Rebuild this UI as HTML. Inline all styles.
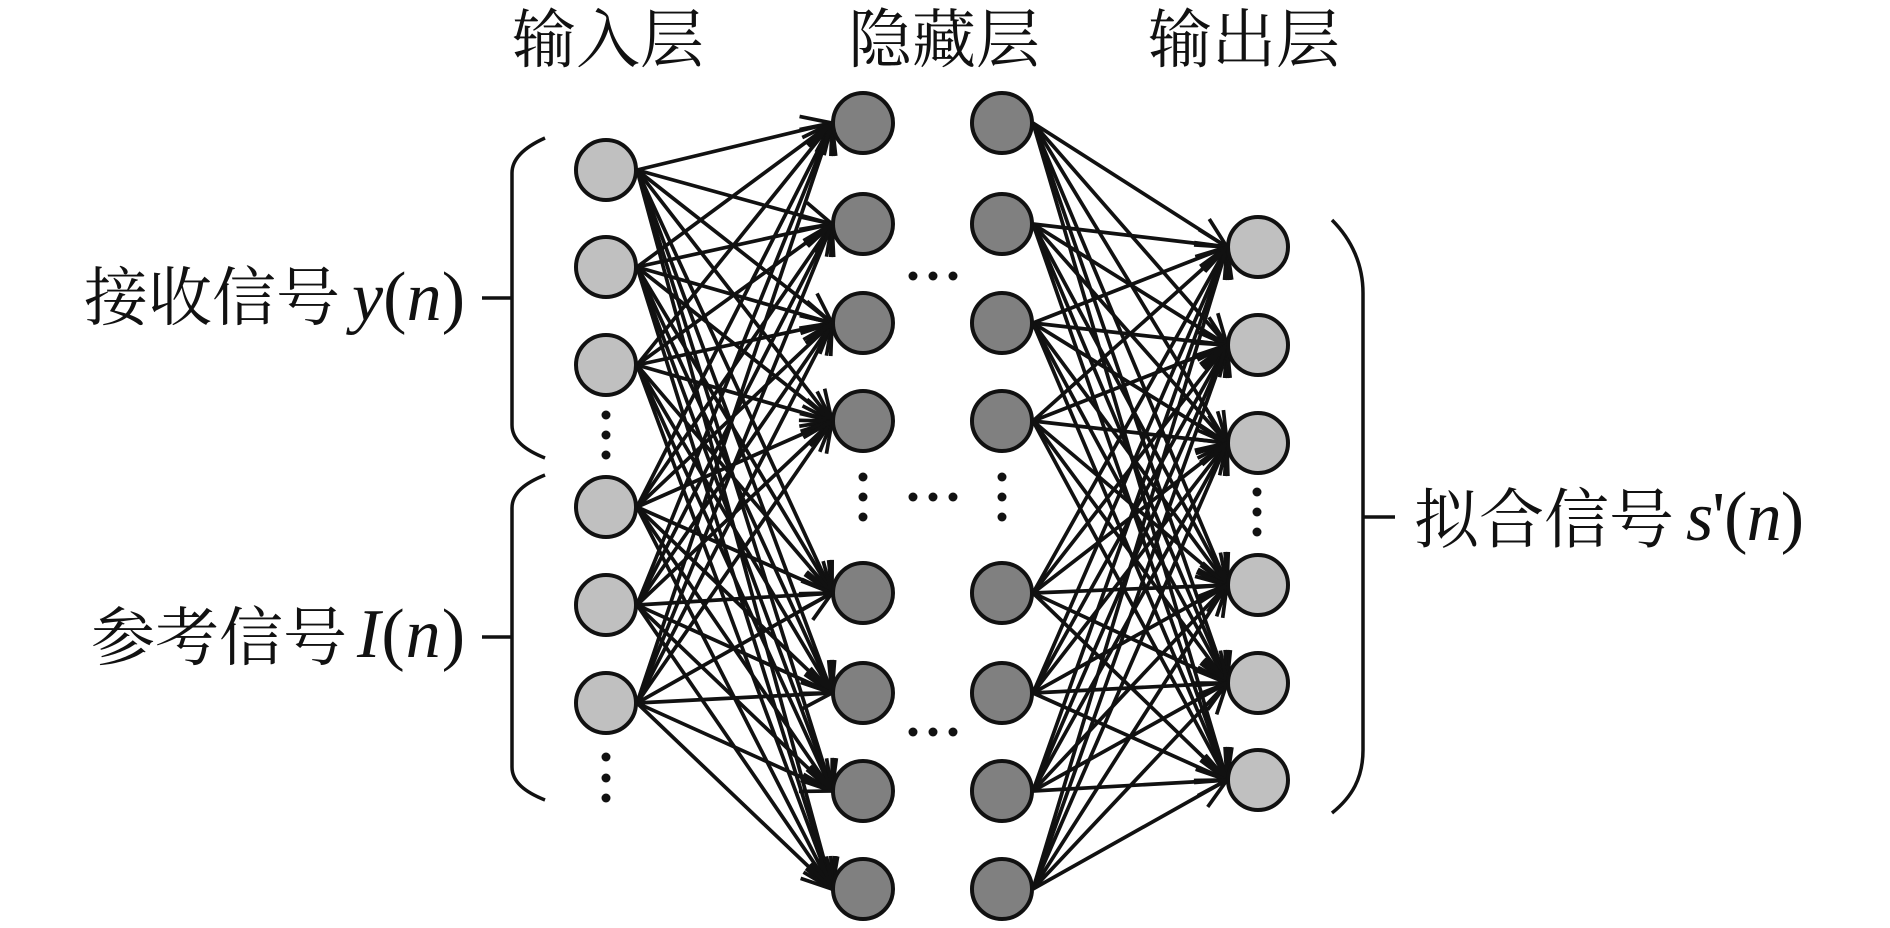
<!DOCTYPE html>
<html>
<head>
<meta charset="utf-8">
<style>
html,body{margin:0;padding:0;background:#fff;}
svg{display:block;}
.c line{stroke:#111;stroke-width:3.7;marker-end:url(#ah);}
.cj{font-family:"Liberation Serif","Noto Serif CJK SC",serif;font-size:64px;fill:#111;}
.m{font-family:"Liberation Serif","DejaVu Serif",serif;fill:#111;}
</style>
</head>
<body>
<svg width="1890" height="928" viewBox="0 0 1890 928" xmlns="http://www.w3.org/2000/svg">
<defs>
<marker id="ah" markerUnits="userSpaceOnUse" markerWidth="40" markerHeight="40" viewBox="-36 -20 40 40" refX="0" refY="0" orient="auto" overflow="visible">
<path d="M-30,-14 L0,0 L-30,14" fill="none" stroke="#111" stroke-width="3.7" stroke-linejoin="miter"/>
</marker>
</defs>

<!-- titles -->
<text class="cj" x="608" y="62" text-anchor="middle">输入层</text>
<text class="cj" x="944" y="62" text-anchor="middle">隐藏层</text>
<text class="cj" x="1244" y="62" text-anchor="middle">输出层</text>

<!-- connections input -> hidden -->
<g class="c">
<line x1="637" y1="170" x2="832" y2="123"/><line x1="637" y1="170" x2="832" y2="224"/><line x1="637" y1="170" x2="832" y2="323"/><line x1="637" y1="170" x2="832" y2="421"/><line x1="637" y1="170" x2="832" y2="593"/><line x1="637" y1="170" x2="832" y2="693"/><line x1="637" y1="170" x2="832" y2="791"/><line x1="637" y1="170" x2="832" y2="889"/>
<line x1="637" y1="267" x2="832" y2="123"/><line x1="637" y1="267" x2="832" y2="224"/><line x1="637" y1="267" x2="832" y2="323"/><line x1="637" y1="267" x2="832" y2="421"/><line x1="637" y1="267" x2="832" y2="593"/><line x1="637" y1="267" x2="832" y2="693"/><line x1="637" y1="267" x2="832" y2="791"/><line x1="637" y1="267" x2="832" y2="889"/>
<line x1="637" y1="365" x2="832" y2="123"/><line x1="637" y1="365" x2="832" y2="224"/><line x1="637" y1="365" x2="832" y2="323"/><line x1="637" y1="365" x2="832" y2="421"/><line x1="637" y1="365" x2="832" y2="593"/><line x1="637" y1="365" x2="832" y2="693"/><line x1="637" y1="365" x2="832" y2="791"/><line x1="637" y1="365" x2="832" y2="889"/>
<line x1="637" y1="507" x2="832" y2="123"/><line x1="637" y1="507" x2="832" y2="224"/><line x1="637" y1="507" x2="832" y2="323"/><line x1="637" y1="507" x2="832" y2="421"/><line x1="637" y1="507" x2="832" y2="593"/><line x1="637" y1="507" x2="832" y2="693"/><line x1="637" y1="507" x2="832" y2="791"/><line x1="637" y1="507" x2="832" y2="889"/>
<line x1="637" y1="605" x2="832" y2="123"/><line x1="637" y1="605" x2="832" y2="224"/><line x1="637" y1="605" x2="832" y2="323"/><line x1="637" y1="605" x2="832" y2="421"/><line x1="637" y1="605" x2="832" y2="593"/><line x1="637" y1="605" x2="832" y2="693"/><line x1="637" y1="605" x2="832" y2="791"/><line x1="637" y1="605" x2="832" y2="889"/>
<line x1="637" y1="703" x2="832" y2="123"/><line x1="637" y1="703" x2="832" y2="224"/><line x1="637" y1="703" x2="832" y2="323"/><line x1="637" y1="703" x2="832" y2="421"/><line x1="637" y1="703" x2="832" y2="593"/><line x1="637" y1="703" x2="832" y2="693"/><line x1="637" y1="703" x2="832" y2="791"/><line x1="637" y1="703" x2="832" y2="889"/>
</g>

<!-- connections hidden -> output -->
<g class="c">
<line x1="1033" y1="123" x2="1227" y2="247"/><line x1="1033" y1="123" x2="1227" y2="345"/><line x1="1033" y1="123" x2="1227" y2="443"/><line x1="1033" y1="123" x2="1227" y2="585"/><line x1="1033" y1="123" x2="1227" y2="683"/><line x1="1033" y1="123" x2="1227" y2="780"/>
<line x1="1033" y1="224" x2="1227" y2="247"/><line x1="1033" y1="224" x2="1227" y2="345"/><line x1="1033" y1="224" x2="1227" y2="443"/><line x1="1033" y1="224" x2="1227" y2="585"/><line x1="1033" y1="224" x2="1227" y2="683"/><line x1="1033" y1="224" x2="1227" y2="780"/>
<line x1="1033" y1="323" x2="1227" y2="247"/><line x1="1033" y1="323" x2="1227" y2="345"/><line x1="1033" y1="323" x2="1227" y2="443"/><line x1="1033" y1="323" x2="1227" y2="585"/><line x1="1033" y1="323" x2="1227" y2="683"/><line x1="1033" y1="323" x2="1227" y2="780"/>
<line x1="1033" y1="421" x2="1227" y2="247"/><line x1="1033" y1="421" x2="1227" y2="345"/><line x1="1033" y1="421" x2="1227" y2="443"/><line x1="1033" y1="421" x2="1227" y2="585"/><line x1="1033" y1="421" x2="1227" y2="683"/><line x1="1033" y1="421" x2="1227" y2="780"/>
<line x1="1033" y1="593" x2="1227" y2="247"/><line x1="1033" y1="593" x2="1227" y2="345"/><line x1="1033" y1="593" x2="1227" y2="443"/><line x1="1033" y1="593" x2="1227" y2="585"/><line x1="1033" y1="593" x2="1227" y2="683"/><line x1="1033" y1="593" x2="1227" y2="780"/>
<line x1="1033" y1="693" x2="1227" y2="247"/><line x1="1033" y1="693" x2="1227" y2="345"/><line x1="1033" y1="693" x2="1227" y2="443"/><line x1="1033" y1="693" x2="1227" y2="585"/><line x1="1033" y1="693" x2="1227" y2="683"/><line x1="1033" y1="693" x2="1227" y2="780"/>
<line x1="1033" y1="791" x2="1227" y2="247"/><line x1="1033" y1="791" x2="1227" y2="345"/><line x1="1033" y1="791" x2="1227" y2="443"/><line x1="1033" y1="791" x2="1227" y2="585"/><line x1="1033" y1="791" x2="1227" y2="683"/><line x1="1033" y1="791" x2="1227" y2="780"/>
<line x1="1033" y1="889" x2="1227" y2="247"/><line x1="1033" y1="889" x2="1227" y2="345"/><line x1="1033" y1="889" x2="1227" y2="443"/><line x1="1033" y1="889" x2="1227" y2="585"/><line x1="1033" y1="889" x2="1227" y2="683"/><line x1="1033" y1="889" x2="1227" y2="780"/>
</g>

<!-- nodes -->
<g stroke="#111" stroke-width="4">
<g fill="#c0c0c0">
<circle cx="606" cy="170" r="30"/><circle cx="606" cy="267" r="30"/><circle cx="606" cy="365" r="30"/>
<circle cx="606" cy="507" r="30"/><circle cx="606" cy="605" r="30"/><circle cx="606" cy="703" r="30"/>
</g>
<g fill="#808080">
<circle cx="863" cy="123" r="30"/><circle cx="863" cy="224" r="30"/><circle cx="863" cy="323" r="30"/><circle cx="863" cy="421" r="30"/>
<circle cx="863" cy="593" r="30"/><circle cx="863" cy="693" r="30"/><circle cx="863" cy="791" r="30"/><circle cx="863" cy="889" r="30"/>
<circle cx="1002" cy="123" r="30"/><circle cx="1002" cy="224" r="30"/><circle cx="1002" cy="323" r="30"/><circle cx="1002" cy="421" r="30"/>
<circle cx="1002" cy="593" r="30"/><circle cx="1002" cy="693" r="30"/><circle cx="1002" cy="791" r="30"/><circle cx="1002" cy="889" r="30"/>
</g>
<g fill="#c0c0c0">
<circle cx="1258" cy="247" r="30"/><circle cx="1258" cy="345" r="30"/><circle cx="1258" cy="443" r="30"/>
<circle cx="1258" cy="585" r="30"/><circle cx="1258" cy="683" r="30"/><circle cx="1258" cy="780" r="30"/>
</g>
</g>

<!-- dots -->
<g fill="#111">
<circle cx="606" cy="415" r="4.5"/><circle cx="606" cy="435" r="4.5"/><circle cx="606" cy="455" r="4.5"/>
<circle cx="606" cy="757" r="4.5"/><circle cx="606" cy="778" r="4.5"/><circle cx="606" cy="798" r="4.5"/>
<circle cx="863" cy="477" r="4.5"/><circle cx="863" cy="497" r="4.5"/><circle cx="863" cy="517" r="4.5"/>
<circle cx="1002" cy="477" r="4.5"/><circle cx="1002" cy="497" r="4.5"/><circle cx="1002" cy="517" r="4.5"/>
<circle cx="913" cy="276" r="4.5"/><circle cx="933" cy="276" r="4.5"/><circle cx="953" cy="276" r="4.5"/>
<circle cx="913" cy="497" r="4.5"/><circle cx="933" cy="497" r="4.5"/><circle cx="953" cy="497" r="4.5"/>
<circle cx="913" cy="732" r="4.5"/><circle cx="933" cy="732" r="4.5"/><circle cx="953" cy="732" r="4.5"/>
<circle cx="1257" cy="492" r="4.5"/><circle cx="1257" cy="512" r="4.5"/><circle cx="1257" cy="532" r="4.5"/>
</g>

<!-- brackets -->
<g fill="none" stroke="#111" stroke-width="3.5">
<path d="M545,138 C525,147 512,158 512,173 L512,425 C512,440 525,450 545,458"/>
<path d="M482,298 L512,298"/>
<path d="M545,475 C525,483 512,493 512,508 L512,767 C512,782 525,792 545,800"/>
<path d="M482,637 L512,637"/>
<path d="M1332,220 C1352,240 1363,265 1363,293 L1363,750 C1363,778 1352,797 1332,813"/>
<path d="M1363,517 L1395,517"/>
</g>

<!-- side labels -->
<text class="cj" x="84" y="320">接收信号</text>
<text class="m" x="352" y="320" font-size="70" textLength="113" lengthAdjust="spacing"><tspan font-style="italic">y</tspan>(<tspan font-style="italic">n</tspan>)</text>

<text class="cj" x="91" y="660">参考信号</text>
<text class="m" x="357" y="657" font-size="70" textLength="108" lengthAdjust="spacing"><tspan font-style="italic">I</tspan>(<tspan font-style="italic">n</tspan>)</text>

<text class="cj" x="1414" y="542" style="font-size:65px">拟合信号</text>
<text class="m" x="1686" y="540" font-size="70" textLength="118" lengthAdjust="spacing"><tspan font-style="italic">s</tspan>'(<tspan font-style="italic">n</tspan>)</text>
</svg>
</body>
</html>
